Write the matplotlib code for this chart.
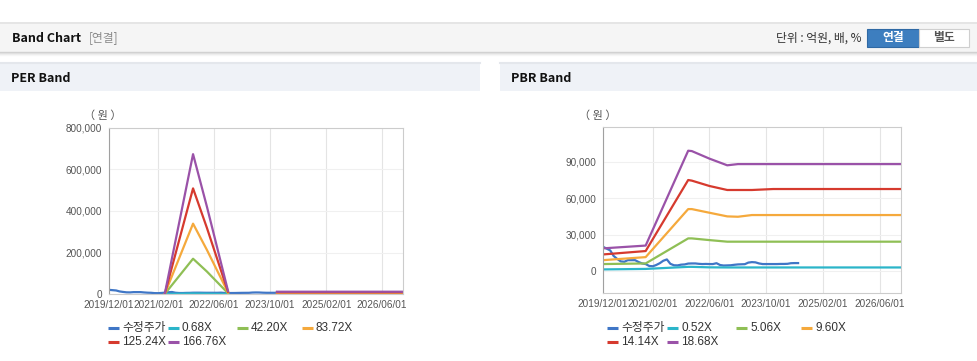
import numpy as np
import pandas as pd
import matplotlib
matplotlib.use("Agg")
import matplotlib.pyplot as plt
import matplotlib.dates as mdates
from matplotlib.patches import Rectangle

W, H = 978, 361
NUM_FONT = ['Liberation Sans', 'Noto Sans CJK KR']
KR_FONT = ['Noto Sans CJK KR', 'DejaVu Sans']
plt.rcParams['font.family'] = NUM_FONT

# months counted from 2019/12/01
START = '2019-12-01'
END = '2026-12-01'
tick_dates = ['2019-12-01', '2021-02-01', '2022-06-01',
              '2023-10-01', '2025-02-01', '2026-06-01']

# 수정주가 (adjusted price), monthly from 2019/12
price = [20000, 18500, 17000, 12500, 10000, 8000, 7700, 9000, 9000, 9000,
         7500, 6300, 5800, 4200, 4000, 5000, 6500, 8500, 9600, 6000,
         4800, 4700, 5300, 5500, 6200, 6300, 6300, 6000, 5800, 5900,
         5800, 5800, 6500, 5000, 4600, 4700, 4800, 5200, 5500, 5600,
         5700, 7000, 7400, 7200, 6300, 5800, 5800, 5800, 5800, 5800,
         5900, 5900, 6000, 6500, 6600, 6600]

# PER band
per_labels = ['수정주가', '0.68X', '42.20X', '83.72X', '125.24X', '166.76X']
per_months = [16, 24, 28, 34, 35, 48, 84]
nan = np.nan
per_068 = [30, 2750, 1700, 60, nan, 45, 45]
per_4220 = [1500, 170000, 108000, 3800, nan, 2800, 2800]
per_8372 = [3000, 339000, 212000, 7500, nan, 5500, 5500]
per_12524 = [4500, 509000, 318000, 11000, nan, 8300, 8300]
per_16676 = [6000, 674000, 420000, 15000, nan, 11000, 11000]

# PBR band
pbr_labels = ['수정주가', '0.52X', '5.06X', '9.60X', '14.14X', '18.68X']
pbr_months = [0, 12, 24, 25, 30, 35, 38, 42, 48, 84]
pbr_052 = [1400, 1800, 3500, 3500, 3100, 3000, 3000, 3000, 3000, 3000]
pbr_506 = [5800, 6300, 26900, 26900, 25500, 24200, 24200, 24200, 24200, 24200]
pbr_960 = [9000, 11500, 51000, 51000, 48000, 45000, 44700, 46100, 46100, 46100]
pbr_1414 = [13700, 16500, 74900, 74400, 70000, 66700, 66700, 66700, 67500, 67500]
pbr_1868 = [18700, 21000, 99000, 98700, 92500, 87000, 88000, 88000, 88000, 88000]

colors = ['#3f76c6', '#2bb5c9', '#8fbf55', '#f5a93c', '#d63a2e', '#9a52a8']


def to_dates(months):
    base = pd.Timestamp(START)
    return [base + pd.DateOffset(months=m) for m in months]


def px_axes(fig, x0, y0, x1, y1):
    return fig.add_axes([x0 / W, 1 - y1 / H, (x1 - x0) / W, (y1 - y0) / H])


def style_axes(ax, ylim, yticks):
    ax.set_xlim(pd.Timestamp(START), pd.Timestamp(END))
    ax.set_ylim(*ylim)
    ax.set_xticks([pd.Timestamp(d) for d in tick_dates])
    ax.xaxis.set_major_formatter(mdates.DateFormatter('%Y/%m/%d'))
    ax.set_yticks(yticks)
    ax.set_yticklabels([f'{v:,}' for v in yticks])
    ax.tick_params(axis='both', length=0, labelsize=7.2, colors='#555555')
    ax.tick_params(axis='x', pad=4)
    ax.tick_params(axis='y', pad=5)
    ax.grid(axis='x', color='#e4e4e4', lw=0.8)
    ax.grid(axis='y', color='#f0f0f0', lw=0.8)
    ax.set_axisbelow(True)
    for s in ax.spines.values():
        s.set_color('#cccccc')
        s.set_linewidth(0.8)
    ax.spines['left'].set_color('#a0a0a0')


def draw_legend(bg, labels, x0):
    xs = [x0, x0 + 60, x0 + 129, x0 + 194]
    for i, (lab, c) in enumerate(zip(labels, colors)):
        row, col = divmod(i, 4)
        x = xs[col]
        y = 328 + row * 14
        bg.plot([x, x + 11], [y, y], color=c, lw=2.2, solid_capstyle='butt')
        bg.text(x + 14, y, lab, fontsize=8.5, color='#333333', va='center',
                family=KR_FONT if i == 0 else NUM_FONT)


fig = plt.figure(figsize=(W / 100, H / 100), dpi=100)
bg = fig.add_axes([0, 0, 1, 1])
bg.set_xlim(0, W)
bg.set_ylim(H, 0)
bg.axis('off')

# top header bar
bg.add_patch(Rectangle((0, 22), W, 30, fc='#f5f5f5', ec='none'))
bg.plot([0, W], [22.5, 22.5], color='#e2e2e2', lw=1.2)
for k, g in enumerate(['#cfcfcf', '#dedede', '#ececec', '#f6f6f6']):
    bg.plot([0, W], [52 + k, 52 + k], color=g, lw=1)
bg.text(12, 38, 'Band Chart', fontsize=9, weight='bold', va='center',
        color='#111111', family=KR_FONT)
bg.text(89, 38, '[연결]', fontsize=8.5, va='center', color='#8a8a8a',
        family=KR_FONT)
bg.text(861, 38, '단위 : 억원, 배, %', ha='right', va='center', fontsize=8.5,
        color='#333333', family=KR_FONT)
bg.add_patch(Rectangle((867, 29), 52, 18, fc='#3d7ebf', ec='#2f69a4', lw=0.8))
bg.text(893, 38, '연결', ha='center', va='center', fontsize=8.5,
        weight='bold', color='white', family=KR_FONT)
bg.add_patch(Rectangle((919, 29), 50, 18, fc='white', ec='#cfcfcf', lw=0.8))
bg.text(944, 38, '별도', ha='center', va='center', fontsize=8.5,
        weight='bold', color='#555555', family=KR_FONT)

# panel headers
for x0, w, title in [(0, 480, 'PER Band'), (500, 478, 'PBR Band')]:
    bg.add_patch(Rectangle((x0, 62), w, 29, fc='#eff2f7', ec='none'))
    bg.plot([x0, x0 + w], [62.5, 62.5], color='#e4e7ec', lw=1.5)
    bg.text(x0 + 11, 78, title, fontsize=9, weight='bold', va='center',
            color='#111111', family=KR_FONT)

bg.text(103, 116, '（ 원 ）', ha='center', va='center', fontsize=8,
        color='#555555', family=KR_FONT)
bg.text(598, 116, '（ 원 ）', ha='center', va='center', fontsize=8,
        color='#555555', family=KR_FONT)

price_dates = to_dates(range(len(price)))

# PER chart
ax1 = px_axes(fig, 109, 128, 403, 294)
per_dates = to_dates(per_months)
ax1.plot(price_dates, price, color=colors[0], lw=1.6)
for vals, c in zip([per_068, per_4220, per_8372, per_12524, per_16676],
                   colors[1:]):
    ax1.plot(per_dates, vals, color=c, lw=1.6)
style_axes(ax1, (0, 800000), [0, 200000, 400000, 600000, 800000])

# PBR chart
ax2 = px_axes(fig, 603, 127, 901, 293)
pbr_dates = to_dates(pbr_months)
ax2.plot(price_dates, price, color=colors[0], lw=1.6)
for vals, c in zip([pbr_052, pbr_506, pbr_960, pbr_1414, pbr_1868],
                   colors[1:]):
    ax2.plot(pbr_dates, vals, color=c, lw=1.6)
style_axes(ax2, (-18000, 118500), [0, 30000, 60000, 90000])

draw_legend(bg, per_labels, 108)
draw_legend(bg, pbr_labels, 607)

fig.savefig('out.png', dpi=100)
